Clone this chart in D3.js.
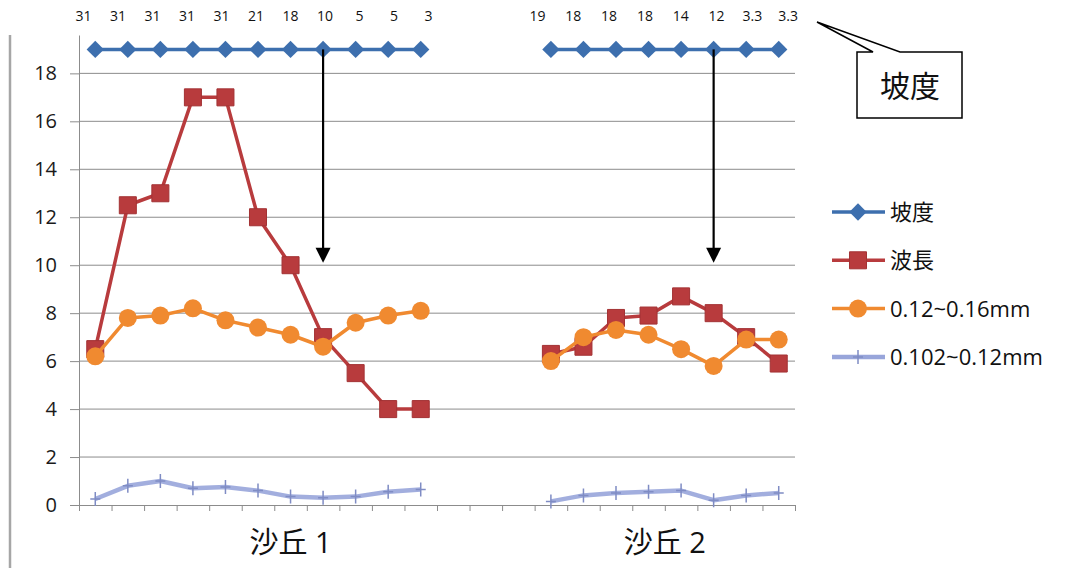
<!DOCTYPE html>
<html>
<head>
<meta charset="utf-8">
<script src="https://cdn.jsdelivr.net/npm/d3@7"></script>
<style>
  body { margin: 0; background: #fff; }
  svg { display: block; font-family: "Open Sans", "Noto Sans CJK JP", sans-serif; }
</style>
</head>
<body>
<svg id="chart" width="1080" height="568"></svg>
<script>
// category slots (22 slots, dune 1 uses 0-10, dune 2 uses 14-21)
const dune1Slots = [0, 1, 2, 3, 4, 5, 6, 7, 8, 9, 10];
const dune2Slots = [14, 15, 16, 17, 18, 19, 20, 21];
const slotCount = 22;

// slope labels written above the points, and the level the slope series is drawn at
const slopeLabels1 = ["31", "31", "31", "31", "31", "21", "18", "10", "5", "5", "3"];
const slopeLabels2 = ["19", "18", "18", "18", "14", "12", "3.3", "3.3"];
const slopeLevel1 = [19, 19, 19, 19, 19, 19, 19, 19, 19, 19, 19];
const slopeLevel2 = [19, 19, 19, 19, 19, 19, 19, 19];

// 波長
const wave1 = [6.5, 12.5, 13, 17, 17, 12, 10, 7, 5.5, 4, 4];
const wave2 = [6.3, 6.6, 7.8, 7.9, 8.7, 8.0, 7.0, 5.9];
// 0.12~0.16mm
const coarse1 = [6.2, 7.8, 7.9, 8.2, 7.7, 7.4, 7.1, 6.6, 7.6, 7.9, 8.1];
const coarse2 = [6.0, 7.0, 7.3, 7.1, 6.5, 5.8, 6.9, 6.9];
// 0.102~0.12mm
const fine1 = [0.25, 0.8, 1.0, 0.7, 0.75, 0.6, 0.35, 0.3, 0.35, 0.55, 0.65];
const fine2 = [0.15, 0.4, 0.5, 0.55, 0.6, 0.2, 0.4, 0.5];

const yTicks = [0, 2, 4, 6, 8, 10, 12, 14, 16, 18];
const groupLabels = ["沙丘 1", "沙丘 2"];
const groupLabelSlots = [6, 17.5];
const legendNames = ["坡度", "波長", "0.12~0.16mm", "0.102~0.12mm"];
const calloutText = "坡度";
// arrows drawn from the slope line down to value 10
const arrowSlots = [7, 19];
const arrowFrom = 19, arrowTo = 10.1;

const colors = { slope: "#3d6fae", wave: "#b83b3d", coarse: "#f08a30", fine: "#98a5da" };

const svg = d3.select("#chart");
const plotLeft = 79, plotRight = 795, plotTop = 35, plotBottom = 505;

const x = d3.scaleLinear().domain([-0.5, slotCount - 0.5]).range([plotLeft, plotRight]);
const y = d3.scaleLinear().domain([0, 19.6]).range([plotBottom, plotTop]);

// outer frame line on the left
svg.append("line")
  .attr("x1", 10).attr("x2", 10).attr("y1", plotTop).attr("y2", 568)
  .attr("stroke", "#a6a6a6").attr("stroke-width", 2.5);

// gridlines
svg.append("g").selectAll("line")
  .data(yTicks.filter(d => d > 0))
  .enter().append("line")
  .attr("x1", plotLeft).attr("x2", plotRight)
  .attr("y1", d => y(d)).attr("y2", d => y(d))
  .attr("stroke", "#8c8c8c").attr("stroke-width", 1);

// y axis
const yAxis = svg.append("g")
  .attr("transform", "translate(" + plotLeft + ",0)")
  .call(d3.axisLeft(y).tickValues(yTicks).tickSize(9).tickSizeOuter(0).tickPadding(13));
yAxis.select(".domain").attr("stroke", "#8c8c8c");
yAxis.selectAll(".tick line").attr("stroke", "#8c8c8c");
yAxis.selectAll(".tick text")
  .style("font-size", "20px").attr("fill", "#1a1a1a")
  .style("font-family", "Open Sans");

// x axis with ticks between categories
const xAxis = svg.append("g")
  .attr("transform", "translate(0," + plotBottom + ")")
  .call(d3.axisBottom(x).tickValues(d3.range(-0.5, slotCount, 1)).tickSize(6).tickSizeOuter(0).tickFormat(""));
xAxis.select(".domain").attr("stroke", "#8c8c8c");
xAxis.selectAll(".tick line").attr("stroke", "#8c8c8c");

// group labels under the axis
svg.append("g").selectAll("text")
  .data(groupLabels)
  .enter().append("text")
  .attr("x", (d, i) => x(groupLabelSlots[i]))
  .attr("y", 553)
  .attr("text-anchor", "middle")
  .style("font-size", "29px")
  .attr("fill", "#111")
  .text(d => d);

const line = d3.line().x(d => x(d[0])).y(d => y(d[1]));
const zip = (slots, vals) => slots.map((s, i) => [s, vals[i]]);

function drawSeries(data, color, width, opacity) {
  svg.append("path")
    .datum(data)
    .attr("d", line)
    .attr("fill", "none")
    .attr("stroke", color)
    .attr("stroke-width", width)
    .attr("stroke-opacity", opacity)
    .attr("stroke-linejoin", "round");
}

function drawMarkers(data, kind) {
  const g = svg.append("g");
  const sel = g.selectAll("g").data(data).enter().append("g")
    .attr("transform", d => "translate(" + x(d[0]) + "," + y(d[1]) + ")");
  addMarker(sel, kind);
}

function addMarker(sel, kind) {
  if (kind === "diamond") {
    sel.append("path")
      .attr("d", d3.symbol(d3.symbolSquare, 150)())
      .attr("transform", "rotate(45)")
      .attr("fill", colors.slope);
  } else if (kind === "square") {
    sel.append("path")
      .attr("d", d3.symbol(d3.symbolSquare, 290)())
      .attr("fill", colors.wave)
      .attr("stroke", "#a33234").attr("stroke-width", 1);
  } else if (kind === "circle") {
    sel.append("circle").attr("r", 9).attr("fill", colors.coarse);
  } else {
    sel.append("path")
      .attr("d", "M0,-7V7M-5,0H5")
      .attr("stroke", "#7f8cc4").attr("stroke-width", 1.5);
  }
}

// 波長
drawSeries(zip(dune1Slots, wave1), colors.wave, 3.5, 1);
drawSeries(zip(dune2Slots, wave2), colors.wave, 3.5, 1);
drawMarkers(zip(dune1Slots, wave1), "square");
drawMarkers(zip(dune2Slots, wave2), "square");

// 0.12~0.16mm
drawSeries(zip(dune1Slots, coarse1), colors.coarse, 3.5, 1);
drawSeries(zip(dune2Slots, coarse2), colors.coarse, 3.5, 1);
drawMarkers(zip(dune1Slots, coarse1), "circle");
drawMarkers(zip(dune2Slots, coarse2), "circle");

// 0.102~0.12mm
drawSeries(zip(dune1Slots, fine1), colors.fine, 4.5, 0.9);
drawSeries(zip(dune2Slots, fine2), colors.fine, 4.5, 0.9);
drawMarkers(zip(dune1Slots, fine1), "plus");
drawMarkers(zip(dune2Slots, fine2), "plus");

// 坡度
drawSeries(zip(dune1Slots, slopeLevel1), colors.slope, 3.5, 1);
drawSeries(zip(dune2Slots, slopeLevel2), colors.slope, 3.5, 1);
drawMarkers(zip(dune1Slots, slopeLevel1), "diamond");
drawMarkers(zip(dune2Slots, slopeLevel2), "diamond");

// slope value labels above the chart (text boxes are spaced a little wider than the points)
function labelGroup(slots, labels, spread) {
  const mid = x((slots[0] + slots[slots.length - 1]) / 2);
  svg.append("g").selectAll("text")
    .data(zip(slots, labels))
    .enter().append("text")
    .attr("x", d => mid + (x(d[0]) - mid) * spread - 2)
    .attr("y", 21)
    .attr("text-anchor", "middle")
    .style("font-size", "14px")
    .attr("fill", "#111")
    .text(d => d[1]);
}
labelGroup(dune1Slots, slopeLabels1, 1.06);
labelGroup(dune2Slots, slopeLabels2, 1.1);

// arrows
const arrows = svg.append("g").selectAll("g").data(arrowSlots).enter().append("g");
arrows.append("line")
  .attr("x1", d => x(d)).attr("x2", d => x(d))
  .attr("y1", y(arrowFrom)).attr("y2", y(arrowTo) - 8)
  .attr("stroke", "#000").attr("stroke-width", 2.2);
arrows.append("path")
  .attr("d", d => {
    const tx = x(d), ty = y(arrowTo);
    return "M" + tx + "," + ty + "L" + (tx - 7.5) + "," + (ty - 15) + "L" + (tx + 7.5) + "," + (ty - 15) + "Z";
  })
  .attr("fill", "#000");

// callout
svg.append("path")
  .attr("d", "M857,52L873,52L817,22L900,52L962,52L962,118L857,118Z")
  .attr("fill", "#fff").attr("stroke", "#000").attr("stroke-width", 1.5)
  .attr("stroke-linejoin", "miter");
svg.append("text")
  .attr("x", 910).attr("y", 97)
  .attr("text-anchor", "middle")
  .style("font-size", "30px")
  .attr("fill", "#111")
  .text(calloutText);

// legend
const legendKinds = ["diamond", "square", "circle", "plus"];
const legendColors = [colors.slope, colors.wave, colors.coarse, colors.fine];
const legend = svg.append("g").selectAll("g")
  .data(legendNames)
  .enter().append("g")
  .attr("transform", (d, i) => "translate(832," + (212 + i * 48.3) + ")");
legend.append("line")
  .attr("x1", 0).attr("x2", 53)
  .attr("stroke", (d, i) => legendColors[i])
  .attr("stroke-width", (d, i) => i === 3 ? 4.5 : 3.5);
legend.each(function (d, i) {
  const m = d3.select(this).append("g").attr("transform", "translate(26,0)");
  addMarker(m, legendKinds[i]);
});
legend.append("text")
  .attr("x", 58).attr("y", 0).attr("dy", "0.36em")
  .style("font-size", "22px")
  .attr("fill", "#111")
  .text(d => d);
</script>
</body>
</html>
